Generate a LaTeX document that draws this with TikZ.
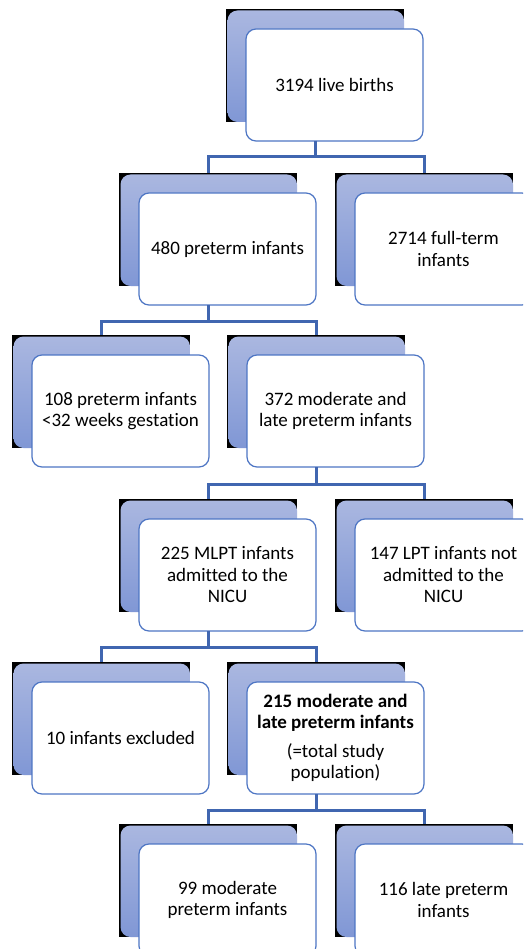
\documentclass[tikz,border=0pt]{standalone}
\usepackage{fontspec}
\setmainfont[Ligatures={NoCommon}]{Carlito}
\definecolor{shTop}{RGB}{170,183,224}
\definecolor{shBot}{RGB}{128,151,213}
\definecolor{cardEdge}{RGB}{78,118,196}
\definecolor{connC}{RGB}{64,102,176}
\newcommand\cardfont{\fontsize{19}{21.5}\selectfont}
\tikzset{
  backbox/.style={fill=black, minimum width=178pt, minimum height=113pt, anchor=north west, inner sep=0pt, outer sep=0pt},
  gradbox/.style={rounded corners=10pt, top color=shTop, bottom color=shBot, minimum width=176.5pt, minimum height=111.5pt, anchor=north west, inner sep=0pt, outer sep=0pt},
  card/.style={rounded corners=10pt, draw=cardEdge, line width=1.2pt, fill=white, minimum width=177pt, minimum height=112pt, anchor=north west, inner sep=0pt, outer sep=0pt, align=center, font=\cardfont},
  conn/.style={draw=connC, line width=3pt, line join=miter}
}
\newcommand\flowbox[4]{%
  \node[backbox] (k#1) at (#2,#3) {};
  \node[gradbox] (s#1) at ([shift={(1.5,1.5)}]k#1.north west) {};
  \node[card] (w#1) at ([shift={(20,20)}]k#1.north west) {#4};
}
\begin{document}
\begin{tikzpicture}[x=1pt,y=-1pt]
\useasboundingbox (0,0) rectangle (523,949);
\clip (0,0) rectangle (523,949);
\fill[white] (0,0) rectangle (523,949);
% connectors
\coordinate (m1) at (316,157);
\coordinate (m2) at (208,321);
\coordinate (m3) at (316,484);
\coordinate (m4) at (208,647);
\coordinate (m5) at (316,810);
% boxes
\flowbox{1}{226}{9}{3194 live births}
\flowbox{2a}{119}{173}{480 preterm infants}
\flowbox{2b}{335}{173}{2714 full-term\\infants}
\flowbox{3a}{12}{335}{108 preterm infants\\<32 weeks gestation}
\flowbox{3b}{227}{335}{372 moderate and\\late preterm infants}
\flowbox{4a}{119}{499}{225 MLPT infants\\admitted to the\\NICU}
\flowbox{4b}{335}{499}{147 LPT infants not\\admitted to the\\NICU}
\flowbox{5a}{12}{662}{10 infants excluded}
\flowbox{5b}{227}{662}{\textbf{215 moderate and}\\\textbf{late preterm infants}\\[7pt](=total study\\population)}
\flowbox{6a}{119}{824}{99 moderate\\preterm infants}
\flowbox{6b}{335}{824}{116 late preterm\\infants}
% connector lines
\draw[conn] (k1.center |- w1.south) -- (k1.center |- m1);
\draw[conn] (k2a.north) |- (k1.center |- m1) -| (k2b.north);
\draw[conn] (k2a.center |- w2a.south) -- (k2a.center |- m2);
\draw[conn] (k3a.north) |- (k2a.center |- m2) -| (k3b.north);
\draw[conn] (k3b.center |- w3b.south) -- (k3b.center |- m3);
\draw[conn] (k4a.north) |- (k3b.center |- m3) -| (k4b.north);
\draw[conn] (k4a.center |- w4a.south) -- (k4a.center |- m4);
\draw[conn] (k5a.north) |- (k4a.center |- m4) -| (k5b.north);
\draw[conn] (k5b.center |- w5b.south) -- (k5b.center |- m5);
\draw[conn] (k6a.north) |- (k5b.center |- m5) -| (k6b.north);
\end{tikzpicture}
\end{document}
